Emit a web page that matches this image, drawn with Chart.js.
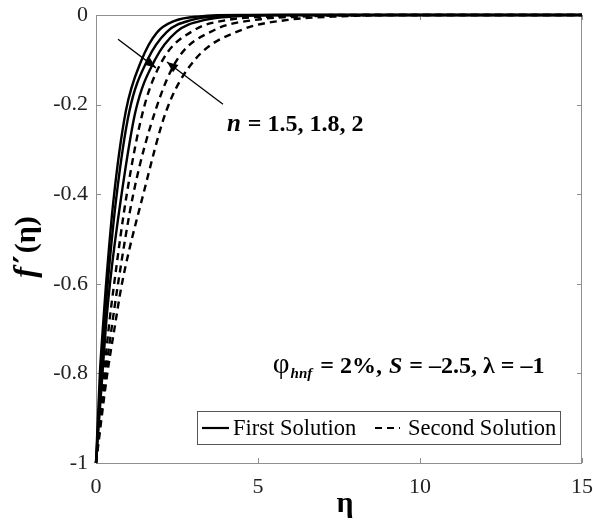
<!DOCTYPE html>
<html>
<head>
<meta charset="utf-8">
<script src="https://cdn.jsdelivr.net/npm/chart.js@4.4.1/dist/chart.umd.min.js"></script>
<style>
html,body{margin:0;padding:0;background:#fff;}
#wrap{width:593px;height:526px;}
</style>
</head>
<body>
<div id="wrap"><canvas id="c" width="593" height="526"></canvas></div>
<script>
// ---- data ----
const xTicks = [0, 5, 10, 15];
const yTicks = [0, -0.2, -0.4, -0.6, -0.8, -1];
const yTickLabels = ['0', '-0.2', '-0.4', '-0.6', '-0.8', '-1'];

// First solution, n = 1.5, 1.8, 2
const etaS1 = [0, 0.12, 0.21, 0.30, 0.53, 0.92, 1.41, 1.87, 2.43, 3.2, 4.5, 15];
const fS1   = [-1, -0.80, -0.70, -0.61, -0.42, -0.215, -0.10, -0.040, -0.013, -0.003, 0, 0];
const etaS2 = [0, 0.16, 0.25, 0.36, 0.64, 1.03, 1.59, 2.18, 2.96, 3.8, 5.5, 15];
const fS2   = [-1, -0.80, -0.70, -0.60, -0.40, -0.215, -0.10, -0.038, -0.011, -0.003, 0, 0];
const etaS3 = [0, 0.20, 0.30, 0.43, 0.79, 1.22, 1.82, 2.49, 3.36, 4.3, 6, 15];
const fS3   = [-1, -0.80, -0.70, -0.60, -0.40, -0.215, -0.10, -0.037, -0.011, -0.003, 0, 0];

// Second solution, n = 1.5, 1.8, 2
const etaD1 = [0, 0.25, 0.39, 0.56, 0.95, 1.46, 2.06, 3.05, 4.07, 5.5, 8, 15];
const fD1   = [-1, -0.80, -0.70, -0.60, -0.40, -0.212, -0.10, -0.033, -0.011, -0.003, 0, 0];
const etaD2 = [0, 0.30, 0.48, 0.68, 1.15, 1.84, 2.50, 3.67, 4.90, 6.5, 9, 15];
const fD2   = [-1, -0.80, -0.70, -0.60, -0.40, -0.212, -0.10, -0.033, -0.011, -0.003, 0, 0];
const etaD3 = [0, 0.35, 0.57, 0.80, 1.46, 2.18, 3.05, 4.50, 5.92, 7.5, 10, 15];
const fD3   = [-1, -0.80, -0.70, -0.60, -0.40, -0.212, -0.10, -0.033, -0.011, -0.003, 0, 0];

const legendLabels = ['First Solution', 'Second Solution'];

// ---- build ----
function pts(xs, ys){ return xs.map((v,i)=>({x:v, y:ys[i]})); }
function ds(label, xs, ys, dashed){
  return {
    label, data: pts(xs, ys), borderColor:'#000', borderWidth:2.4,
    borderDash: dashed ? [7,5] : [], pointRadius:0, fill:false,
    cubicInterpolationMode:'monotone', clip:false
  };
}
const datasets = [
  ds('First n=1.5', etaS1, fS1, false),
  ds('First n=1.8', etaS2, fS2, false),
  ds('First n=2',   etaS3, fS3, false),
  ds('Second n=1.5', etaD1, fD1, true),
  ds('Second n=1.8', etaD2, fD2, true),
  ds('Second n=2',   etaD3, fD3, true)
];

const SERIF = '"Liberation Serif", "Times New Roman", serif';

function drawArrow(ctx, x0, y0, x1, y1){
  ctx.beginPath(); ctx.moveTo(x0,y0); ctx.lineTo(x1,y1); ctx.stroke();
  const ang = Math.atan2(y1-y0, x1-x0), L = 11, W = 4.5;
  ctx.beginPath();
  ctx.moveTo(x1,y1);
  ctx.lineTo(x1 - L*Math.cos(ang) + W*Math.sin(ang), y1 - L*Math.sin(ang) - W*Math.cos(ang));
  ctx.lineTo(x1 - L*Math.cos(ang) - W*Math.sin(ang), y1 - L*Math.sin(ang) + W*Math.cos(ang));
  ctx.closePath(); ctx.fill();
}
function drawRuns(ctx, runs, x, y){
  let cx = x;
  runs.forEach(r=>{ ctx.font = r[1]; ctx.fillText(r[0], cx, y + (r[2]||0)); cx += ctx.measureText(r[0]).width + (r[3]||0); });
  return cx - x;
}
function runsWidth(ctx, runs){
  let w=0; runs.forEach(r=>{ ctx.font=r[1]; w+=ctx.measureText(r[0]).width + (r[3]||0); }); return w;
}
function noPad(s){ s.paddingLeft = 0; s.paddingRight = 0; s.paddingTop = 0; s.paddingBottom = 0; }

const framePlugin = {
  id:'frame',
  beforeDatasetsDraw(chart){
    const {ctx, chartArea:a, scales:{x,y}} = chart;
    ctx.save();
    ctx.strokeStyle = '#8f8f8f'; ctx.lineWidth = 1;
    ctx.strokeRect(Math.round(a.left)+0.5, Math.round(a.top)+0.5, Math.round(a.right-a.left)-1, Math.round(a.bottom-a.top));
    ctx.beginPath();
    xTicks.forEach(v=>{
      const px = Math.round(x.getPixelForValue(v))+0.5;
      ctx.moveTo(px, a.bottom); ctx.lineTo(px, a.bottom-5);
      ctx.moveTo(px, a.top); ctx.lineTo(px, a.top+5);
    });
    yTicks.forEach(v=>{
      const py = Math.round(y.getPixelForValue(v))+0.5;
      ctx.moveTo(a.left, py); ctx.lineTo(a.left+5, py);
      ctx.moveTo(a.right, py); ctx.lineTo(a.right-5, py);
    });
    ctx.stroke();
    ctx.restore();
  },
  afterDraw(chart){
    const {ctx, chartArea:a, scales:{x,y}} = chart;
    ctx.save();
    ctx.fillStyle = '#000'; ctx.strokeStyle = '#000'; ctx.lineWidth = 1.3;
    // arrows (placed in data coordinates)
    drawArrow(ctx, x.getPixelForValue(0.68), y.getPixelForValue(-0.054), x.getPixelForValue(1.85), y.getPixelForValue(-0.118));
    drawArrow(ctx, x.getPixelForValue(3.92), y.getPixelForValue(-0.199), x.getPixelForValue(2.19), y.getPixelForValue(-0.105));
    ctx.textBaseline = 'alphabetic'; ctx.textAlign = 'left';
    // n label
    drawRuns(ctx, [
      ['n', 'italic bold 25px '+SERIF, 0, 1],
      [' = 1.5, 1.8, 2', 'bold 24px '+SERIF]
    ], x.getPixelForValue(4.04), y.getPixelForValue(-0.258));
    // parameter label
    const B = 'bold 24px '+SERIF;
    const eq = [
      ['φ', '29px '+SERIF, 0, 1],
      ['hnf', 'italic bold 15px '+SERIF, 5, 2],
      [' = 2%, ', B, 0, 1],
      ['S', 'italic bold 24px '+SERIF, 0, 1],
      [' = \u20132.5, λ = \u20131', B, 0]
    ];
    const eqw = runsWidth(ctx, eq);
    drawRuns(ctx, eq, x.getPixelForValue(9.65) - eqw/2, y.getPixelForValue(-0.80));

    // legend
    const lx = 197, ly = 411, lw = 363, lh = 33;
    ctx.fillStyle = '#fff'; ctx.fillRect(lx, ly, lw, lh);
    ctx.strokeStyle = '#555'; ctx.lineWidth = 1;
    ctx.strokeRect(lx+0.5, ly+0.5, lw, lh);
    const my = ly + lh/2 + 0.5;
    ctx.strokeStyle = '#000'; ctx.lineWidth = 2.2;
    ctx.beginPath(); ctx.moveTo(202, my); ctx.lineTo(229, my); ctx.stroke();
    ctx.setLineDash([7,5]);
    ctx.beginPath(); ctx.moveTo(375, my); ctx.lineTo(400, my); ctx.stroke();
    ctx.setLineDash([]);
    ctx.fillStyle = '#000'; ctx.font = '22.5px '+SERIF; ctx.textBaseline = 'middle';
    ctx.fillText(legendLabels[0], 233, my+1);
    ctx.fillText(legendLabels[1], 408, my+1);

    // axis titles
    ctx.textBaseline = 'alphabetic';
    ctx.font = 'bold 30px '+SERIF; ctx.textAlign = 'center';
    ctx.fillText('η', (a.left+a.right)/2 + 6, 512);
    const yt = [
      ['f', 'italic bold 32px '+SERIF, 0, 4],
      ['\u2032', 'bold 30px "DejaVu Serif", serif', 0, 2],
      ['(η)', 'bold 30px '+SERIF]
    ];
    ctx.save();
    ctx.translate(35, (a.top+a.bottom)/2 + 8);
    ctx.rotate(-Math.PI/2);
    ctx.textAlign = 'left';
    const yw = runsWidth(ctx, yt);
    drawRuns(ctx, yt, -yw/2, 0);
    ctx.restore();
    ctx.restore();
  }
};

new Chart(document.getElementById('c'), {
  type:'line',
  data:{ datasets },
  options:{
    responsive:false, animation:false, devicePixelRatio:1,
    layout:{ padding:{ top:15, right:11, left:0, bottom:0 } },
    plugins:{ legend:{display:false}, tooltip:{enabled:false} },
    scales:{
      x:{
        type:'linear', min:0, max:15,
        afterBuildTicks(s){ s.ticks = xTicks.map(v=>({value:v})); },
        afterFit(s){ s.height = 63; noPad(s); },
        grid:{ display:false, drawTicks:false },
        border:{ display:false },
        ticks:{ padding:11, color:'#222', font:{ family:SERIF, size:22 }, maxRotation:0,
          callback:(v)=> String(v) }
      },
      y:{
        type:'linear', min:-1, max:0,
        afterBuildTicks(s){ s.ticks = yTicks.map(v=>({value:v})); },
        afterFit(s){ s.width = 96; noPad(s); },
        grid:{ display:false, drawTicks:false },
        border:{ display:false },
        ticks:{ padding:8, color:'#222', font:{ family:SERIF, size:22 },
          callback:(v)=>{ const i = yTicks.findIndex(t=>Math.abs(t-v)<1e-9); return i>=0 ? yTickLabels[i] : ''; } }
      }
    }
  },
  plugins:[framePlugin]
});
</script>
</body>
</html>
